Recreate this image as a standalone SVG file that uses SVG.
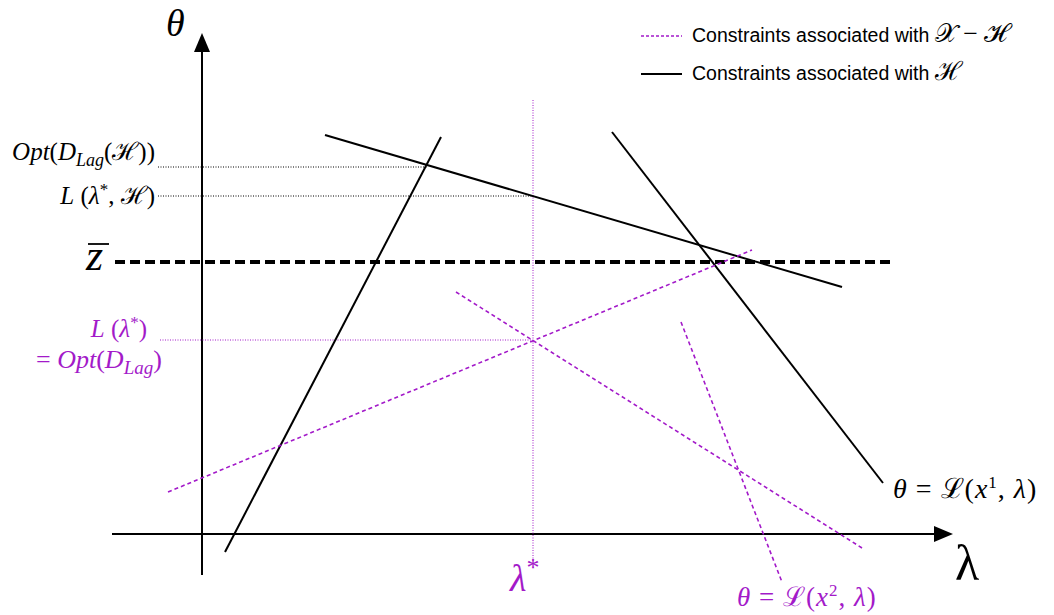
<svg xmlns="http://www.w3.org/2000/svg" width="1054" height="615" viewBox="0 0 1054 615">
<style>
.m{font-family:"Liberation Serif","DejaVu Serif",serif;}
.i{font-style:italic;}
.blk{fill:#000;}
.pur{fill:#a31ac9;}
.solid{stroke:#000;stroke-width:2;fill:none;}
.pdash{stroke:#a31ac9;stroke-width:1.6;stroke-dasharray:4 3;fill:none;}
.lead{stroke:#000;stroke-width:1;stroke-dasharray:1 1.5;fill:none;}
.plead{stroke:#a31ac9;stroke-width:1;stroke-dasharray:1 1.5;fill:none;}
.leg{font-family:"Liberation Sans",Arial,sans-serif;font-size:19.5px;fill:#000;}
</style>
<rect width="1054" height="615" fill="#fff"/>
<g id="axes">
<line x1="202" y1="575" x2="202" y2="40" stroke="#000" stroke-width="2"/>
<path d="M202,33 L210,52 L194,52 Z" fill="#000"/>
<line x1="112" y1="534" x2="940" y2="534" stroke="#000" stroke-width="2"/>
<path d="M953,534 L934,526 L934,542 Z" fill="#000"/>
<text class="m i" x="166" y="36" font-size="38">θ</text>
<text class="m" x="955" y="580" font-size="50">λ</text>
</g>
<g id="connectors">
<line class="lead" x1="158" y1="167" x2="428" y2="167"/>
<line class="lead" x1="158" y1="196" x2="533" y2="196"/>
<line class="plead" x1="160" y1="340" x2="533" y2="340"/>
<line class="plead" x1="533" y1="100" x2="533" y2="563"/>
<line x1="115" y1="262" x2="890" y2="262" stroke="#000" stroke-width="4" stroke-dasharray="10 5"/>
<line class="solid" x1="225" y1="552" x2="441" y2="137"/>
<line class="solid" x1="325" y1="135" x2="842" y2="287"/>
<line class="solid" x1="612" y1="132" x2="883" y2="483"/>
<line class="pdash" x1="168" y1="492" x2="752" y2="250"/>
<line class="pdash" x1="456" y1="292" x2="862" y2="548"/>
<line class="pdash" x1="681" y1="322" x2="782" y2="582"/>
</g>
<g id="labels">
<text class="m blk" x="155" y="160" font-size="25" text-anchor="end"><tspan class="i">Opt</tspan>(<tspan class="i">D</tspan><tspan class="i" font-size="18" dy="6">Lag</tspan><tspan dy="-6">(ℋ))</tspan></text>
<text class="m blk" x="155" y="204" font-size="25" text-anchor="end"><tspan class="i">L</tspan> (<tspan class="i">λ</tspan><tspan font-size="17" dy="-9">*</tspan><tspan dy="9">, ℋ)</tspan></text>
<text class="m i blk" x="86" y="270" font-size="44">z</text>
<line x1="88" y1="244" x2="109" y2="244" stroke="#000" stroke-width="1.8"/>
<text class="m pur" x="147" y="337" font-size="25" text-anchor="end"><tspan class="i">L</tspan> (<tspan class="i">λ</tspan><tspan font-size="17" dy="-9">*</tspan><tspan dy="9">)</tspan></text>
<text class="m pur" x="36" y="368" font-size="26">= <tspan class="i">Opt</tspan>(<tspan class="i">D</tspan><tspan class="i" font-size="19" dy="6">Lag</tspan><tspan dy="-6">)</tspan></text>
<text class="m pur" x="510" y="591" font-size="38"><tspan class="i">λ</tspan><tspan font-size="26" dy="-15">*</tspan></text>
<text class="m blk" x="893" y="498" font-size="28" letter-spacing="1"><tspan class="i">θ</tspan> = ℒ(<tspan class="i">x</tspan><tspan font-size="17" dy="-10">1</tspan><tspan dy="10">, </tspan><tspan class="i">λ</tspan>)</text>
<text class="m pur" x="737" y="606" font-size="27" letter-spacing="1"><tspan class="i">θ</tspan> = ℒ(<tspan class="i">x</tspan><tspan font-size="17" dy="-10">2</tspan><tspan dy="10">, </tspan><tspan class="i">λ</tspan>)</text>
</g>
<g id="legend">
<line x1="641" y1="36" x2="682" y2="36" stroke="#a31ac9" stroke-width="1.6" stroke-dasharray="3 2"/>
<text class="leg" x="692" y="42">Constraints associated with <tspan class="m" font-size="26">𝒳 − ℋ</tspan></text>
<line x1="641" y1="74" x2="682" y2="74" stroke="#000" stroke-width="2"/>
<text class="leg" x="692" y="80">Constraints associated with <tspan class="m" font-size="26">ℋ</tspan></text>
</g>
</svg>
